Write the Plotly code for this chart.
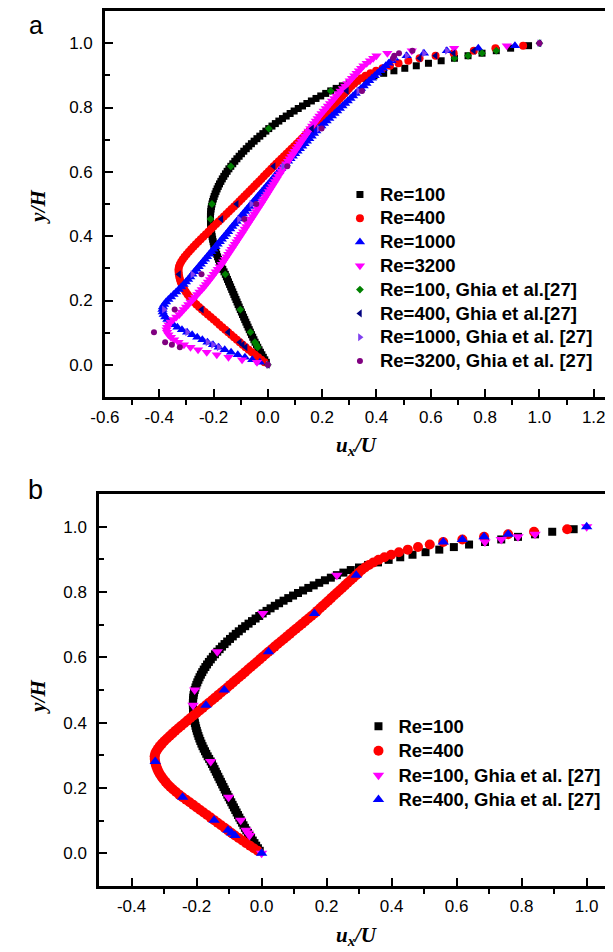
import plotly.graph_objects as go

# ---------------- data ----------------
# simulation grid (y/H) shared by all simulated profiles
Y_SIM = [
    0.0078, 0.0156, 0.0234, 0.0313, 0.0391, 0.0469, 0.0547, 0.0625, 0.0703, 0.0781,
    0.0859, 0.0938, 0.1016, 0.1094, 0.1172, 0.1250, 0.1328, 0.1406, 0.1484, 0.1563,
    0.1641, 0.1719, 0.1797, 0.1875, 0.1953, 0.2031, 0.2109, 0.2188, 0.2266, 0.2344,
    0.2422, 0.2500, 0.2578, 0.2656, 0.2734, 0.2813, 0.2891, 0.2969, 0.3047, 0.3125,
    0.3203, 0.3281, 0.3359, 0.3438, 0.3516, 0.3594, 0.3672, 0.3750, 0.3828, 0.3906,
    0.3984, 0.4063, 0.4141, 0.4219, 0.4297, 0.4375, 0.4453, 0.4531, 0.4609, 0.4688,
    0.4766, 0.4844, 0.4922, 0.5000, 0.5078, 0.5156, 0.5234, 0.5313, 0.5391, 0.5469,
    0.5547, 0.5625, 0.5703, 0.5781, 0.5859, 0.5938, 0.6016, 0.6094, 0.6172, 0.6250,
    0.6328, 0.6406, 0.6484, 0.6563, 0.6641, 0.6719, 0.6797, 0.6875, 0.6953, 0.7031,
    0.7109, 0.7188, 0.7266, 0.7344, 0.7422, 0.7500, 0.7578, 0.7656, 0.7734, 0.7813,
    0.7891, 0.7969, 0.8047, 0.8125, 0.8203, 0.8281, 0.8359, 0.8438, 0.8516, 0.8594,
    0.8672, 0.8750, 0.8828, 0.8906, 0.8984, 0.9063, 0.9141, 0.9219, 0.9297, 0.9375,
    0.9453, 0.9531, 0.9609, 0.9688, 0.9766, 0.9844, 0.9922,
]

U_RE100 = [
    -0.0057, -0.0113, -0.0167, -0.0220, -0.0272, -0.0323, -0.0372, -0.0419, -0.0470, -0.0513,
    -0.0557, -0.0601, -0.0643, -0.0685, -0.0727, -0.0768, -0.0810, -0.0851, -0.0892, -0.0933,
    -0.0974, -0.1015, -0.1055, -0.1095, -0.1134, -0.1173, -0.1213, -0.1252, -0.1292, -0.1331,
    -0.1370, -0.1409, -0.1448, -0.1487, -0.1527, -0.1566, -0.1613, -0.1659, -0.1702, -0.1742,
    -0.1781, -0.1818, -0.1852, -0.1885, -0.1915, -0.1943, -0.1969, -0.1993, -0.2015, -0.2034,
    -0.2052, -0.2067, -0.2080, -0.2091, -0.2100, -0.2107, -0.2111, -0.2113, -0.2114, -0.2111,
    -0.2104, -0.2093, -0.2078, -0.2058, -0.2034, -0.2008, -0.1978, -0.1944, -0.1908, -0.1868,
    -0.1826, -0.1780, -0.1730, -0.1678, -0.1622, -0.1562, -0.1500, -0.1435, -0.1364, -0.1292,
    -0.1217, -0.1140, -0.1058, -0.0973, -0.0886, -0.0795, -0.0702, -0.0605, -0.0505, -0.0402,
    -0.0296, -0.0185, -0.0073, 0.0033, 0.0152, 0.0276, 0.0405, 0.0538, 0.0676, 0.0820,
    0.0968, 0.1119, 0.1276, 0.1437, 0.1603, 0.1773, 0.1948, 0.2130, 0.2315, 0.2516,
    0.2743, 0.2996, 0.3276, 0.3580, 0.3909, 0.4265, 0.4642, 0.5043, 0.5466, 0.5914,
    0.6382, 0.6872, 0.7372, 0.7887, 0.8412, 0.8940, 0.9600,
]

U_RE400 = [
    -0.0120, -0.0240, -0.0357, -0.0475, -0.0591, -0.0705, -0.0819, -0.0927, -0.1034, -0.1140,
    -0.1247, -0.1354, -0.1461, -0.1568, -0.1676, -0.1783, -0.1890, -0.1998, -0.2105, -0.2213,
    -0.2322, -0.2430, -0.2534, -0.2632, -0.2723, -0.2807, -0.2884, -0.2955, -0.3019, -0.3076,
    -0.3127, -0.3170, -0.3207, -0.3237, -0.3260, -0.3277, -0.3287, -0.3290, -0.3274, -0.3239,
    -0.3191, -0.3132, -0.3064, -0.2989, -0.2909, -0.2826, -0.2740, -0.2652, -0.2562, -0.2470,
    -0.2378, -0.2283, -0.2189, -0.2095, -0.2000, -0.1905, -0.1810, -0.1714, -0.1620, -0.1526,
    -0.1432, -0.1338, -0.1243, -0.1148, -0.1057, -0.0966, -0.0875, -0.0783, -0.0692, -0.0601,
    -0.0510, -0.0420, -0.0329, -0.0238, -0.0147, -0.0055, 0.0036, 0.0125, 0.0214, 0.0308,
    0.0402, 0.0496, 0.0590, 0.0685, 0.0779, 0.0873, 0.0967, 0.1061, 0.1155, 0.1249,
    0.1343, 0.1438, 0.1532, 0.1626, 0.1711, 0.1797, 0.1882, 0.1968, 0.2053, 0.2139,
    0.2224, 0.2310, 0.2395, 0.2481, 0.2566, 0.2652, 0.2738, 0.2823, 0.2909, 0.2988,
    0.3079, 0.3183, 0.3302, 0.3440, 0.3597, 0.3778, 0.3986, 0.4224, 0.4498, 0.4812,
    0.5173, 0.5587, 0.6176, 0.6844, 0.7584, 0.8380, 0.9400,
]

U_RE1000 = [
    -0.0293, -0.0574, -0.0844, -0.1107, -0.1354, -0.1588, -0.1811, -0.2020, -0.2222, -0.2412,
    -0.2600, -0.2788, -0.2973, -0.3163, -0.3330, -0.3476, -0.3599, -0.3700, -0.3778, -0.3835,
    -0.3869, -0.3880, -0.3865, -0.3820, -0.3750, -0.3663, -0.3569, -0.3473, -0.3377, -0.3283,
    -0.3192, -0.3104, -0.3019, -0.2937, -0.2858, -0.2781, -0.2703, -0.2626, -0.2548, -0.2471,
    -0.2393, -0.2315, -0.2238, -0.2160, -0.2083, -0.2005, -0.1927, -0.1850, -0.1772, -0.1695,
    -0.1617, -0.1539, -0.1462, -0.1384, -0.1307, -0.1229, -0.1151, -0.1074, -0.0996, -0.0919,
    -0.0841, -0.0764, -0.0686, -0.0608, -0.0529, -0.0451, -0.0372, -0.0294, -0.0215, -0.0136,
    -0.0058, 0.0021, 0.0100, 0.0178, 0.0257, 0.0335, 0.0414, 0.0492, 0.0570, 0.0657,
    0.0744, 0.0831, 0.0917, 0.1004, 0.1091, 0.1178, 0.1265, 0.1351, 0.1438, 0.1525,
    0.1612, 0.1699, 0.1785, 0.1872, 0.1969, 0.2066, 0.2164, 0.2261, 0.2358, 0.2455,
    0.2552, 0.2650, 0.2747, 0.2844, 0.2941, 0.3039, 0.3136, 0.3233, 0.3330, 0.3430,
    0.3530, 0.3630, 0.3731, 0.3832, 0.3933, 0.4035, 0.4137, 0.4240, 0.4344, 0.4449,
    0.4556, 0.4660, 0.5112, 0.5749, 0.6593, 0.7750, 0.9100,
]

U_RE3200 = [
    -0.0400, -0.0950, -0.1450, -0.1880, -0.2250, -0.2570, -0.2850, -0.3090, -0.3290, -0.3450,
    -0.3570, -0.3660, -0.3710, -0.3730, -0.3710, -0.3660, -0.3580, -0.3480, -0.3370, -0.3260,
    -0.3177, -0.3095, -0.3012, -0.2929, -0.2846, -0.2764, -0.2681, -0.2598, -0.2516, -0.2433,
    -0.2350, -0.2278, -0.2206, -0.2133, -0.2061, -0.1989, -0.1917, -0.1844, -0.1772, -0.1700,
    -0.1639, -0.1579, -0.1518, -0.1457, -0.1396, -0.1336, -0.1275, -0.1214, -0.1154, -0.1093,
    -0.1032, -0.0971, -0.0911, -0.0850, -0.0790, -0.0730, -0.0670, -0.0610, -0.0550, -0.0490,
    -0.0430, -0.0370, -0.0310, -0.0250, -0.0192, -0.0135, -0.0077, -0.0019, 0.0038, 0.0096,
    0.0154, 0.0212, 0.0269, 0.0327, 0.0385, 0.0442, 0.0500, 0.0562, 0.0623, 0.0685,
    0.0746, 0.0808, 0.0869, 0.0931, 0.0992, 0.1054, 0.1115, 0.1177, 0.1238, 0.1300,
    0.1367, 0.1433, 0.1500, 0.1567, 0.1633, 0.1700, 0.1767, 0.1833, 0.1900, 0.1978,
    0.2056, 0.2134, 0.2212, 0.2290, 0.2368, 0.2446, 0.2524, 0.2602, 0.2680, 0.2764,
    0.2848, 0.2932, 0.3016, 0.3100, 0.3184, 0.3268, 0.3352, 0.3436, 0.3520, 0.3640,
    0.3760, 0.3880, 0.4000, 0.4400, 0.5300, 0.6860, 0.8800,
]

# Ghia et al. [27] benchmark data
GHIA_Y = [1.0000, 0.9766, 0.9688, 0.9609, 0.9531, 0.8516, 0.7344, 0.6172, 0.5000,
          0.4531, 0.2813, 0.1719, 0.1016, 0.0703, 0.0625, 0.0547, 0.0000]
GHIA_U100 = [1.00000, 0.84123, 0.78871, 0.73722, 0.68717, 0.23151, 0.00332, -0.13641, -0.20581,
             -0.21090, -0.15662, -0.10150, -0.06434, -0.04775, -0.04192, -0.03717, 0.00000]
GHIA_U400 = [1.00000, 0.75837, 0.68439, 0.61756, 0.55892, 0.29093, 0.16256, 0.02135, -0.11477,
             -0.17119, -0.32726, -0.24299, -0.14612, -0.10338, -0.09266, -0.08186, 0.00000]
GHIA_U1000 = [1.00000, 0.65928, 0.57492, 0.51117, 0.46604, 0.33304, 0.18719, 0.05702, -0.06080,
              -0.10648, -0.27805, -0.38289, -0.29730, -0.22220, -0.20196, -0.18109, 0.00000]
GHIA_U3200 = [1.00000, 0.53236, 0.48296, 0.46547, 0.46101, 0.34682, 0.19791, 0.07156, -0.04272,
              -0.08636, -0.24427, -0.34323, -0.41933, -0.37827, -0.35344, -0.32407, 0.00000]

# tick labels
X_TICKS_A = [-0.6, -0.4, -0.2, 0.0, 0.2, 0.4, 0.6, 0.8, 1.0, 1.2]
X_TEXT_A = ["-0.6", "-0.4", "-0.2", "0.0", "0.2", "0.4", "0.6", "0.8", "1.0", "1.2"]
X_MINOR_A = [-0.5, -0.3, -0.1, 0.1, 0.3, 0.5, 0.7, 0.9, 1.1]
X_TICKS_B = [-0.4, -0.2, 0.0, 0.2, 0.4, 0.6, 0.8, 1.0]
X_TEXT_B = ["-0.4", "-0.2", "0.0", "0.2", "0.4", "0.6", "0.8", "1.0"]
X_MINOR_B = [-0.3, -0.1, 0.1, 0.3, 0.5, 0.7, 0.9]
Y_TICKS = [0.0, 0.2, 0.4, 0.6, 0.8, 1.0]
Y_TEXT = ["0.0", "0.2", "0.4", "0.6", "0.8", "1.0"]
Y_MINOR = [0.1, 0.3, 0.5, 0.7, 0.9]

# ---------------- figure ----------------
# the page body has an 8px margin, so the figure is 8px smaller than the window
OFF = 8
W, H = 613 - OFF, 952 - OFF
SANS = "Liberation Sans, Arial, sans-serif"
SERIF = "Liberation Serif, Times New Roman, serif"


def fx(px):
    return (px - OFF) / W


def fy(py):
    return 1 - (py - OFF) / H


fig = go.Figure()


def add(x, y, name, symbol, size, color, xa, ya, legend):
    fig.add_trace(go.Scatter(
        x=x, y=y, mode="markers",
        name='<span style="font-size:18.5px"><b>%s</b></span>' % name,
        marker=dict(symbol=symbol, size=size, color=color, line=dict(width=0)),
        xaxis=xa, yaxis=ya, legend=legend,
    ))


# panel a
add(U_RE100, Y_SIM, "Re=100", "square", 7, "#000000", "x", "y", "legend")
add(U_RE400, Y_SIM, "Re=400", "circle", 8, "#FF0000", "x", "y", "legend")
add(U_RE1000, Y_SIM, "Re=1000", "triangle-up", 9, "#0000FF", "x", "y", "legend")
add(U_RE3200, Y_SIM, "Re=3200", "triangle-down", 9, "#FF00FF", "x", "y", "legend")
add(GHIA_U100, GHIA_Y, "Re=100, Ghia et al.[27]", "diamond", 6, "#008000", "x", "y", "legend")
add(GHIA_U400, GHIA_Y, "Re=400, Ghia et al.[27]", "triangle-left", 7, "#000080", "x", "y", "legend")
add(GHIA_U1000, GHIA_Y, "Re=1000, Ghia et al. [27]", "triangle-right", 7, "#7F3FEF", "x", "y", "legend")
add(GHIA_U3200, GHIA_Y, "Re=3200, Ghia et al. [27]", "circle", 6, "#800080", "x", "y", "legend")

# panel b
add(U_RE100, Y_SIM, "Re=100", "square", 8, "#000000", "x2", "y2", "legend2")
add(U_RE400, Y_SIM, "Re=400", "circle", 10, "#FF0000", "x2", "y2", "legend2")
add(GHIA_U100, GHIA_Y, "Re=100, Ghia et al. [27]", "triangle-down", 10, "#FF00FF", "x2", "y2", "legend2")
add(GHIA_U400, GHIA_Y, "Re=400, Ghia et al. [27]", "triangle-up", 10, "#0000FF", "x2", "y2", "legend2")

tickfont = dict(family=SANS, size=17, color="black")


def xaxis(domain, rng, tv, tt, minor, anchor):
    return dict(domain=domain, range=rng, anchor=anchor, tickmode="array", tickvals=tv, ticktext=tt,
                ticks="inside", ticklen=8, tickwidth=2, tickcolor="black", tickfont=tickfont,
                ticklabelstandoff=3,
                showline=True, linewidth=2.5, linecolor="black", mirror=True,
                showgrid=False, zeroline=False,
                minor=dict(tickmode="array", tickvals=minor, ticks="outside", ticklen=5,
                           tickwidth=2, tickcolor="black", showgrid=False))


def yaxis(domain, anchor):
    return dict(domain=domain, range=[-0.1, 1.1], anchor=anchor, tickmode="array",
                tickvals=Y_TICKS, ticktext=Y_TEXT,
                ticks="inside", ticklen=8, tickwidth=2, tickcolor="black", tickfont=tickfont,
                ticklabelstandoff=6,
                showline=True, linewidth=2.5, linecolor="black", mirror=False,
                showgrid=False, zeroline=False,
                minor=dict(tickmode="array", tickvals=Y_MINOR, ticks="inside", ticklen=5,
                           tickwidth=2, tickcolor="black", showgrid=False))


legend_common = dict(xanchor="left", yanchor="top", bgcolor="rgba(0,0,0,0)", borderwidth=0,
                     tracegroupgap=0, itemwidth=30)

fig.update_layout(
    width=W, height=H, margin=dict(l=0, r=0, t=0, b=0),
    paper_bgcolor="white", plot_bgcolor="white", showlegend=True,
    xaxis=xaxis([fx(92), 1.0], [-0.6, 1.271], X_TICKS_A, X_TEXT_A, X_MINOR_A, "y"),
    yaxis=yaxis([fy(397), fy(11)], "x"),
    xaxis2=xaxis([fx(86), 1.0], [-0.5, 1.081], X_TICKS_B, X_TEXT_B, X_MINOR_B, "y2"),
    yaxis2=yaxis([fy(886), fy(494)], "x2"),
    legend=dict(x=fx(333), y=fy(177.5), font=dict(family=SANS, size=16.0, color="black"),
                **legend_common),
    legend2=dict(x=fx(352), y=fy(709), font=dict(family=SANS, size=16.5, color="black"),
                 **legend_common),
)

ytitle = "<b><i>y/H</i></b>"
xtitle = "<b><i>u</i></b><sub><b><i>x</i></b></sub><b><i>/U</i></b>"
title_font = dict(family=SERIF, size=21, color="black")
for (px, py, txt, ang, fnt) in [
    (23, 207, ytitle, -90, title_font),
    (23, 697, ytitle, -90, title_font),
    (351, 446, xtitle, 0, title_font),
    (351, 936, xtitle, 0, title_font),
    (21, 25, "a", 0, dict(family=SANS, size=25, color="black")),
    (21, 490, "b", 0, dict(family=SANS, size=27, color="black")),
]:
    fig.add_annotation(x=fx(px), y=fy(py), xref="paper", yref="paper", text=txt,
                       showarrow=False, textangle=ang, font=fnt, xanchor="center", yanchor="middle")

fig.write_html("out.html")
